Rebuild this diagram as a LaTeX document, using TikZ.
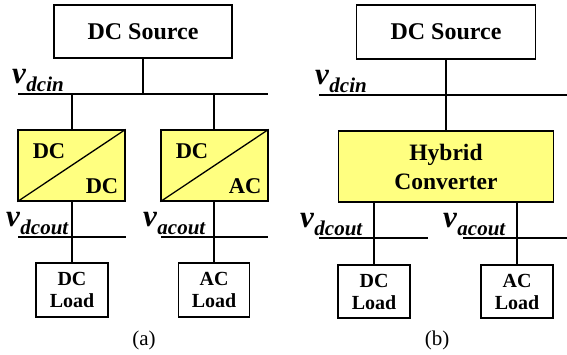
\documentclass[tikz,border=0pt]{standalone}
\usepackage{fontspec}
\setmainfont{Liberation Serif}
\definecolor{convfill}{RGB}{255,255,128}
% voltage label: large bold italic v with a lowered subscript
\newcommand{\voltlabel}[1]{{\bfseries\itshape\fontsize{31}{31}\selectfont v\kern0.5pt\raisebox{-8pt}{\fontsize{21}{21}\selectfont #1}}}
\begin{document}
\begin{tikzpicture}[x=1pt,y=-1pt,
  wire/.style={line width=1.3pt},
  plainbox/.style={draw,line width=1.3pt,fill=white,inner sep=0pt},
  convbox/.style={draw,line width=1.3pt,fill=convfill,inner sep=0pt},
  srctext/.style={font=\bfseries\fontsize{24}{28}\selectfont},
  loadtext/.style={font=\bfseries\fontsize{20}{22}\selectfont,align=center},
  convtext/.style={font=\bfseries\fontsize{22.5}{26}\selectfont},
  vlab/.style={anchor=base west,inner sep=0pt},
  caption/.style={font=\fontsize{21}{24}\selectfont}]
\useasboundingbox (0,0) rectangle (567,354);

% ---------------- (a) separate converters ----------------
\node[plainbox,minimum width=178pt,minimum height=53pt,srctext] (srcA) at (143,31.5) {DC Source};
\coordinate (busAl) at (18,94);
\coordinate (busAr) at (268,94);
\coordinate (busAm) at (143,94);
\draw[wire] (busAl) -- (busAr);
\draw[wire] (srcA.south) -- (busAm);
\node[vlab] (vinA) at (12,83) {\voltlabel{dcin}};

\node[convbox,minimum width=107pt,minimum height=71pt] (cdc) at (71.5,165.5) {};
\node[convbox,minimum width=107pt,minimum height=71pt] (cac) at (214.5,165.5) {};
\draw[wire] (cdc.south west) -- (cdc.north east);
\draw[wire] (cac.south west) -- (cac.north east);
\node[convtext] (cdc1) at (49,151) {DC};
\node[convtext] (cdc2) at (102,186) {DC};
\node[convtext] (cac1) at (192,151) {DC};
\node[convtext] (cac2) at (245,186) {AC};
\coordinate (tapA1) at (72,94);
\coordinate (tapA2) at (214,94);
\draw[wire] (tapA1) -- (tapA1 |- cdc.north);
\draw[wire] (tapA2) -- (tapA2 |- cac.north);

\node[plainbox,minimum width=72pt,minimum height=54pt,loadtext] (ldcA) at (72,290) {DC\\Load};
\node[plainbox,minimum width=71pt,minimum height=54pt,loadtext] (lacA) at (214,290) {AC\\Load};
\draw[wire] (ldcA.north |- cdc.south) -- (ldcA.north);
\draw[wire] (lacA.north |- cac.south) -- (lacA.north);
\coordinate (odcAl) at (18,237);
\coordinate (odcAr) at (126,237);
\coordinate (oacAl) at (161,237);
\coordinate (oacAr) at (268,237);
\draw[wire] (odcAl) -- (odcAr);
\draw[wire] (oacAl) -- (oacAr);
\node[vlab] (voutA1) at (6,226) {\voltlabel{dcout}};
\node[vlab] (voutA2) at (143,226) {\voltlabel{acout}};
\node[caption] (capA) at (144,340) {(a)};

% ---------------- (b) hybrid converter ----------------
\node[plainbox,minimum width=179pt,minimum height=54pt,srctext] (srcB) at (446,32) {DC Source};
\coordinate (busBl) at (319,95);
\coordinate (busBr) at (567,95);
\draw[wire] (busBl) -- (busBr);
\node[vlab] (vinB) at (315,84) {\voltlabel{dcin}};

\node[convbox,minimum width=215pt,minimum height=71pt,align=center,font=\bfseries\fontsize{23.5}{29}\selectfont] (hyb) at (446,166.5) {Hybrid\\Converter};
\draw[wire] (srcB.south) -- (hyb.north);

\node[plainbox,minimum width=72pt,minimum height=53pt,loadtext] (ldcB) at (374,291.5) {DC\\Load};
\node[plainbox,minimum width=72pt,minimum height=53pt,loadtext] (lacB) at (517,291.5) {AC\\Load};
\draw[wire] (ldcB.north |- hyb.south) -- (ldcB.north);
\draw[wire] (lacB.north |- hyb.south) -- (lacB.north);
\coordinate (odcBl) at (319,238);
\coordinate (odcBr) at (428,238);
\coordinate (oacBl) at (463,238);
\coordinate (oacBr) at (567,238);
\draw[wire] (odcBl) -- (odcBr);
\draw[wire] (oacBl) -- (oacBr);
\node[vlab] (voutB1) at (300,227) {\voltlabel{dcout}};
\node[vlab] (voutB2) at (443,227) {\voltlabel{acout}};
\node[caption] (capB) at (437,340) {(b)};
\end{tikzpicture}
\end{document}
